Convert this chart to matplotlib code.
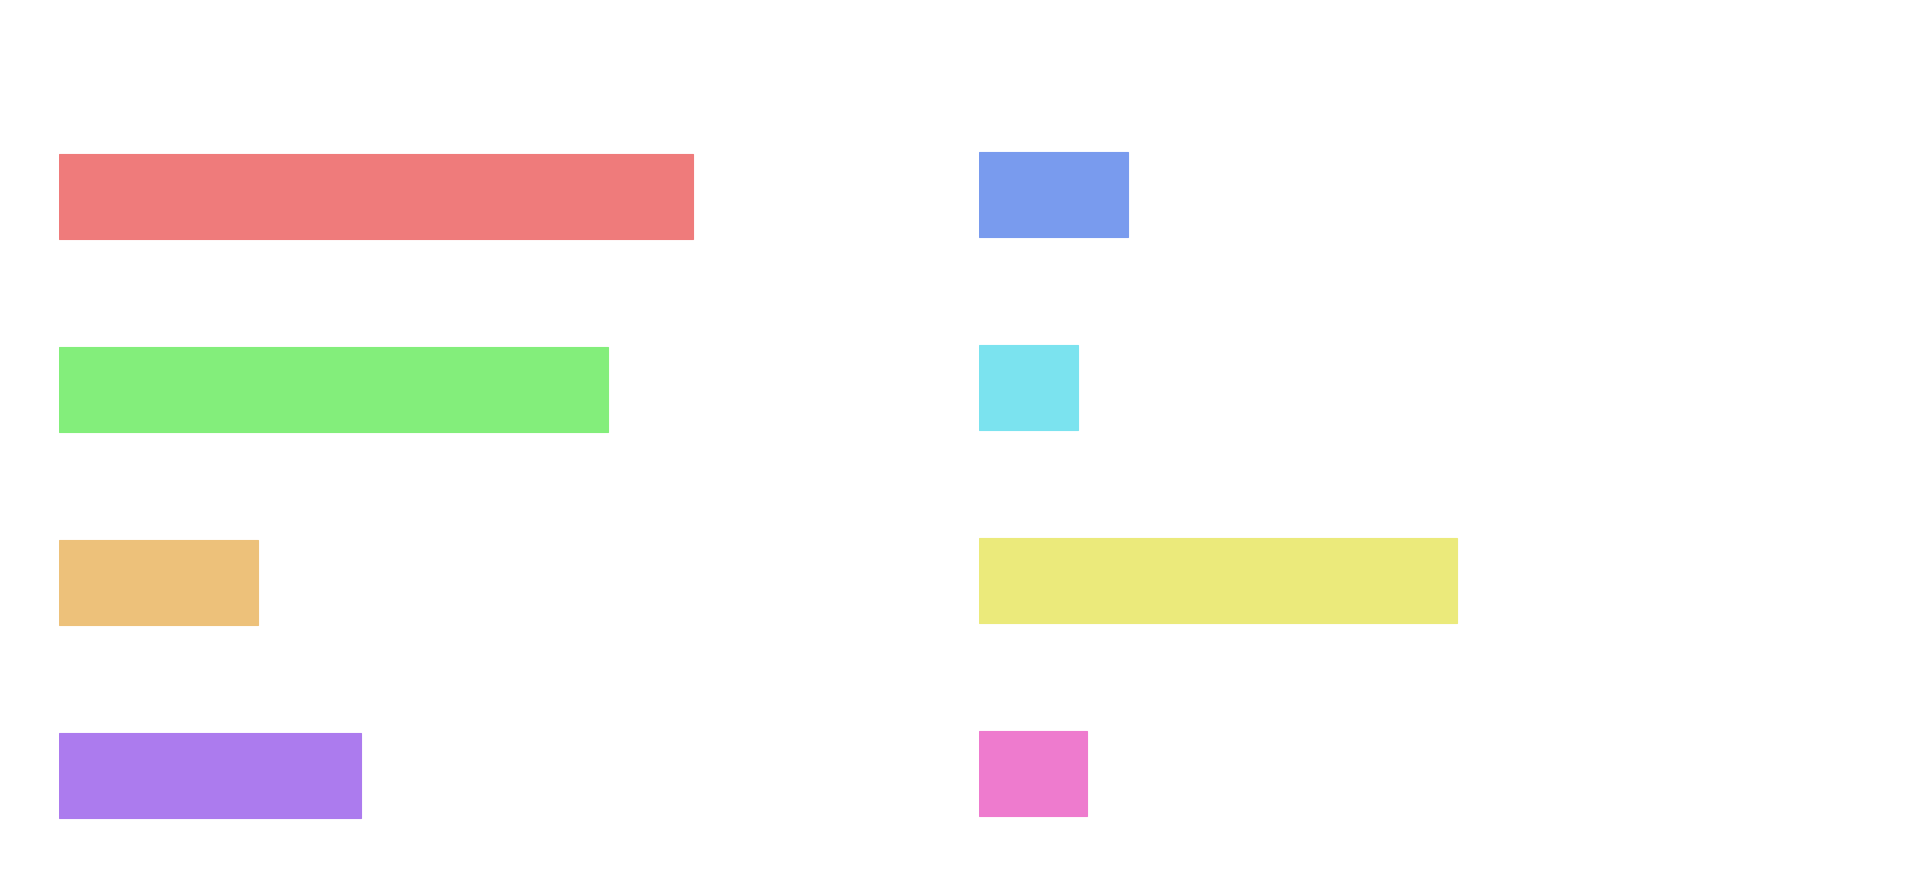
import matplotlib.pyplot as plt
import numpy as np

# two columns of horizontal bars, no axes or text
left_labels = ['A', 'B', 'C', 'D']
left_values = [72.0, 62.4, 22.6, 34.3]
left_colors = ['#ef7b7b', '#83ee7b', '#edc17a', '#ac7bee']

right_labels = ['E', 'F', 'G', 'H']
right_values = [16.9, 11.3, 54.3, 12.3]
right_colors = ['#799bee', '#7be3ef', '#ebea7b', '#ee7bce']

W, H = 1920, 887
fig = plt.figure(figsize=(W / 100, H / 100), dpi=100)


def panel(x0, top, labels, values, colors):
    # axis box given in pixels: 880 wide, 4 rows of 193 px
    ax = fig.add_axes([x0 / W, (H - top - 772) / H, 880 / W, 772 / H])
    y = np.arange(len(labels))
    ax.barh(y, values, height=0.44, color=colors, edgecolor=colors, linewidth=0.8)
    ax.set_xlim(0, 100)
    ax.set_ylim(3.5, -0.5)
    ax.axis('off')
    return ax


panel(59, 101, left_labels, left_values, left_colors)
panel(979, 99, right_labels, right_values, right_colors)

fig.savefig('out.png', dpi=100, facecolor='white')
